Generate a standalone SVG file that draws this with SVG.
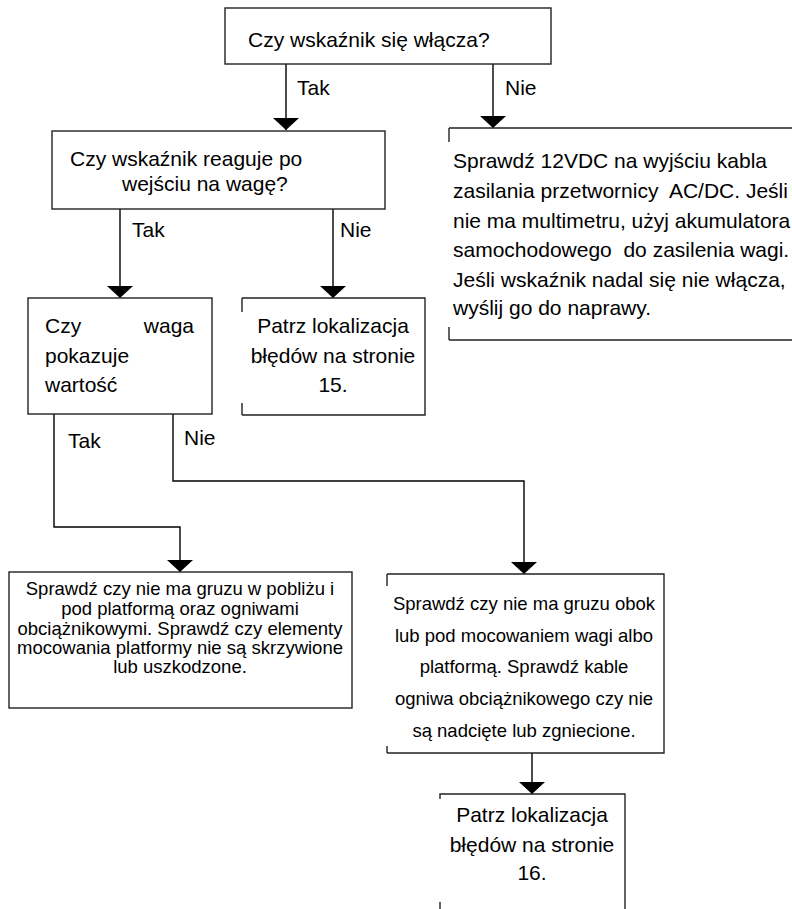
<svg xmlns="http://www.w3.org/2000/svg" width="792" height="909" viewBox="0 0 792 909">
<style>
  .box { fill: #fff; stroke: #222; stroke-width: 1.4; }
  .edge { fill: none; stroke: #222; stroke-width: 1.4; }
  .conn { fill: none; stroke: #000; stroke-width: 1.4; marker-end: url(#arrow); }
  text { font-family: "Liberation Sans", Arial, sans-serif; fill: #000; }
  .big { font-size: 21px; }
  .small { font-size: 18.5px; }
  .mid { text-anchor: middle; }
</style>
<defs>
  <marker id="arrow" viewBox="0 -14 13 28" markerWidth="13" markerHeight="28" refX="12" refY="0" orient="auto" markerUnits="userSpaceOnUse">
    <path d="M0,-13 L12,0 L0,13 z" fill="#000"/>
  </marker>
</defs>
<rect width="792" height="909" fill="#fff"/>

<g id="connectors">
  <path class="conn" d="M286,64 V130"/>
  <path class="conn" d="M493,64 V128"/>
  <path class="conn" d="M120,209 V298"/>
  <path class="conn" d="M333,209 V298"/>
  <path class="conn" d="M54,414 V527 H180 V572"/>
  <path class="conn" d="M173,414 V481 H524 V574"/>
  <path class="conn" d="M532,753 V794"/>
  <text class="big" x="297" y="95">Tak</text>
  <text class="big" x="505" y="95">Nie</text>
  <text class="big" x="132" y="237">Tak</text>
  <text class="big" x="340" y="237">Nie</text>
  <text class="big" x="68" y="448">Tak</text>
  <text class="big" x="184" y="445">Nie</text>
</g>

<g id="n1">
  <rect class="box" x="225" y="8" width="326" height="56"/>
  <text class="big" x="248" y="47">Czy wskaźnik się włącza?</text>
</g>

<g id="n2">
  <rect class="box" x="52" y="131" width="333" height="78"/>
  <text class="big" x="70" y="166">Czy wskaźnik reaguje po</text>
  <text class="big" x="122" y="191">wejściu na wagę?</text>
</g>

<g id="n3">
  <path class="edge" d="M449,128 H800 M449,340 H800 M449,128 V142 M449,340 V327"/>
  <text class="big" x="453" y="168">Sprawdź 12VDC na wyjściu kabla</text>
  <text class="big" x="453" y="198" xml:space="preserve">zasilania przetwornicy  AC/DC. Jeśli</text>
  <text class="big" x="453" y="228">nie ma multimetru, użyj akumulatora</text>
  <text class="big" x="453" y="257" xml:space="preserve">samochodowego  do zasilenia wagi.</text>
  <text class="big" x="453" y="287">Jeśli wskaźnik nadal się nie włącza,</text>
  <text class="big" x="453" y="315">wyślij go do naprawy.</text>
</g>

<g id="n4">
  <rect class="box" x="28" y="298" width="184" height="116"/>
  <text class="big" x="45" y="333">Czy</text>
  <text class="big" x="194" y="333" text-anchor="end">waga</text>
  <text class="big" x="45" y="363">pokazuje</text>
  <text class="big" x="45" y="392">wartość</text>
</g>

<g id="n5">
  <path class="edge" d="M242,298 H425 V415 H242 M242,298 V312 M242,415 V403"/>
  <text class="big mid" x="333" y="333">Patrz lokalizacja</text>
  <text class="big mid" x="333" y="363">błędów na stronie</text>
  <text class="big mid" x="333" y="392">15.</text>
</g>

<g id="n6">
  <rect class="box" x="9" y="572" width="343" height="136"/>
  <text class="small mid" x="180" y="595">Sprawdź czy nie ma gruzu w pobliżu i</text>
  <text class="small mid" x="180" y="615">pod platformą oraz ogniwami</text>
  <text class="small mid" x="180" y="635">obciążnikowymi. Sprawdź czy elementy</text>
  <text class="small mid" x="180" y="654">mocowania platformy nie są skrzywione</text>
  <text class="small mid" x="180" y="673">lub uszkodzone.</text>
</g>

<g id="n7">
  <path class="edge" d="M387,574 H664 V753 H387 M387,574 V586 M387,753 V746"/>
  <text class="small mid" x="524" y="610">Sprawdź czy nie ma gruzu obok</text>
  <text class="small mid" x="524" y="642">lub pod mocowaniem wagi albo</text>
  <text class="small mid" x="524" y="673">platformą. Sprawdź kable</text>
  <text class="small mid" x="524" y="705">ogniwa obciążnikowego czy nie</text>
  <text class="small mid" x="524" y="737">są nadcięte lub zgniecione.</text>
</g>

<g id="n8">
  <path class="edge" d="M440,920 V902 M440,799 V794 H625 V920"/>
  <text class="big mid" x="532" y="822">Patrz lokalizacja</text>
  <text class="big mid" x="532" y="852">błędów na stronie</text>
  <text class="big mid" x="532" y="880">16.</text>
</g>
</svg>
